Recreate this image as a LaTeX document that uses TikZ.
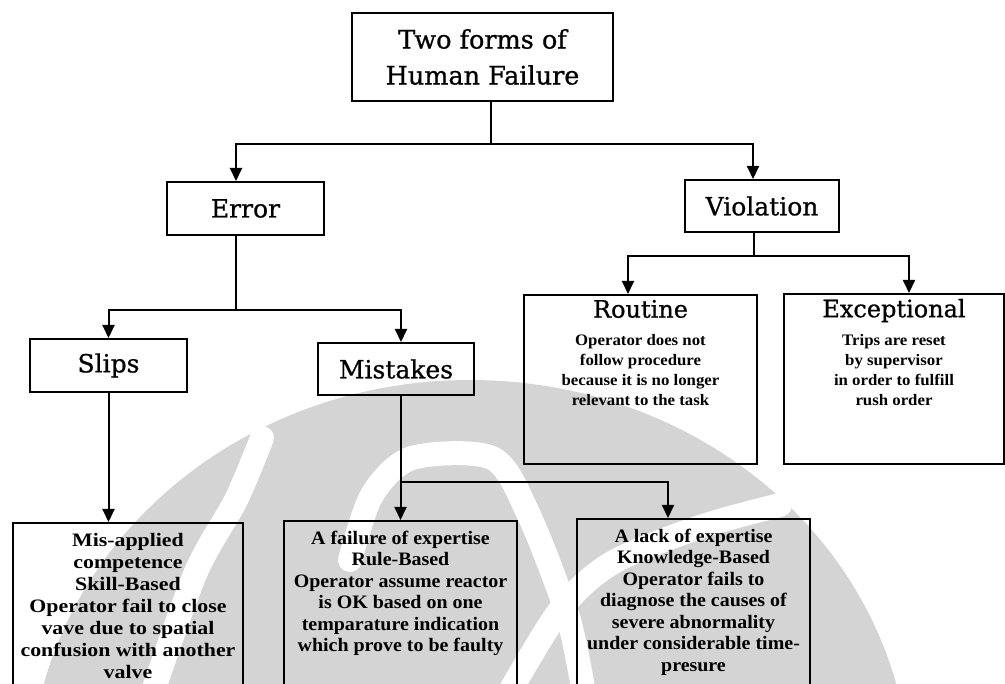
\documentclass[tikz,border=0pt]{standalone}
\usepackage{fontspec}
\setmainfont{Liberation Serif}
\newfontfamily\headfont[FakeBold=0.8]{DejaVu Serif}
\newfontfamily\bodyfont[FakeStretch=1.05]{Liberation Serif}
\newfontfamily\widebodyfont[FakeStretch=1.15]{Liberation Serif}
\usetikzlibrary{arrows.meta}

\definecolor{markgray}{gray}{0.83}

\tikzset{
  box/.style={draw, line width=2pt, inner sep=0pt, align=center},
  link/.style={line width=2pt},
  arr/.style={line width=2pt, -{Triangle[width=12pt,length=13pt]}},
  headA/.style={font=\headfont\fontsize{25.5}{36}\selectfont},
  headB/.style={font=\headfont\fontsize{25}{30}\selectfont},
  gap/.style={white, line width=24pt, line cap=round},
}
\newcommand{\headtxt}[1]{{\headfont\fontsize{24}{28}\selectfont #1\par}}
\newcommand{\smalltxt}{\bodyfont\bfseries\fontsize{16}{20}\selectfont}
\newcommand{\basetxt}{\bodyfont\bfseries\fontsize{19}{21.5}\selectfont}
\newcommand{\widetxt}{\widebodyfont\bfseries\fontsize{19}{22}\selectfont}

\begin{document}
\begin{tikzpicture}[x=1pt,y=-1pt]
\useasboundingbox (0,0) rectangle (1005,684);
\clip (0,0) rectangle (1005,684);

% faint emblem in the background
\fill[markgray] (470,785) ellipse [x radius=440, y radius=405];
\draw[gap] plot[smooth] coordinates {(262,438) (236,500) (196,572) (150,700)};
\draw[gap] plot[smooth] coordinates {(350,560) (372,495) (412,458) (492,458) (528,513) (568,617) (585,700)};
\draw[gap] plot[smooth] coordinates {(505,700) (560,610) (612,563) (700,527) (780,505)};

% boxes
\node[box, headA, minimum width=261pt, minimum height=88pt] (root) at (482.5,57) {Two forms of\\Human Failure};
\node[box, headB, minimum width=157pt, minimum height=53pt] (err) at (245.5,208.5) {Error};
\node[box, headB, minimum width=154pt, minimum height=52pt] (viol) at (762,206) {Violation};
\node[box, headB, minimum width=157pt, minimum height=53pt] (slips) at (108.5,365.5) {Slips};
\node[box, headB, minimum width=156pt, minimum height=52pt] (mist) at (396,369) {Mistakes};

\node[box, anchor=north west] (routine) at (523,294) {\parbox[t][169pt][t]{233pt}{\centering\vspace*{5pt}%
  \headtxt{Routine}\vspace{8pt}
  {\smalltxt Operator does not\\ follow procedure\\ because it is no longer\\ relevant to the task\par}}};
\node[box, anchor=north west] (excep) at (783,293) {\parbox[t][170pt][t]{220pt}{\centering\vspace*{5pt}%
  \headtxt{Exceptional}\vspace{8pt}
  {\smalltxt Trips are reset\\ by supervisor\\ in order to fulfill\\ rush order\par}}};

\node[box, anchor=north west] (skill) at (12,522) {\parbox[t][200pt][t]{230pt}{\centering\vspace*{10pt}%
  {\widetxt Mis-applied\\ competence\\ Skill-Based\\ Operator fail to close\\ vave due to spatial\\ confusion with another\\ valve\par}}};
\node[box, anchor=north west] (rule) at (283,520) {\parbox[t][200pt][t]{233pt}{\centering\vspace*{10pt}%
  {\basetxt A failure of expertise\\ Rule-Based\\ Operator assume reactor\\ is OK based on one\\ temparature indication\\ which prove to be faulty\par}}};
\node[box, anchor=north west] (know) at (576,518) {\parbox[t][200pt][t]{233pt}{\centering\vspace*{10pt}%
  {\basetxt A lack of expertise\\ Knowledge-Based\\ Operator fails to\\ diagnose the causes of\\ severe abnormality\\ under considerable time-\\ presure\par}}};

% connectors
\draw[link] ([xshift=8.5pt]root.south) -- ++(0,42) coordinate (j0);
\draw[arr] (j0) -| ([xshift=-9.5pt]err.north);
\draw[arr] (j0) -| ([xshift=-9pt]viol.north);

\draw[link] ([xshift=-9.5pt]err.south) -- ++(0,74) coordinate (j1);
\draw[arr] (j1) -| (slips.north);
\draw[arr] (j1) -| ([xshift=5pt]mist.north);

\draw[link] ([xshift=-8pt]viol.south) -- ++(0,23) coordinate (j2);
\draw[arr] (j2) -| ([xshift=-12.5pt]routine.north);
\draw[arr] (j2) -| ([xshift=15pt]excep.north);

\draw[arr] (rule.north |- mist.south) -- (rule.north);
\coordinate (j3) at ([yshift=38pt]rule.north);
\draw[arr] (j3) -| ([xshift=-25.5pt]know.north);

\draw[arr] (slips.south) -- (slips.south |- skill.north);
\end{tikzpicture}
\end{document}
